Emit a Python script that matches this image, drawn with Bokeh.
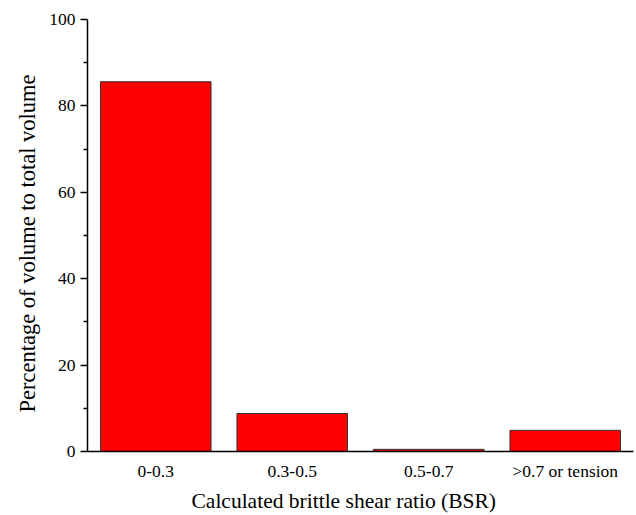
from bokeh.plotting import figure
from bokeh.models import FactorRange, Range1d, ColumnDataSource, FixedTicker, Title
from bokeh.embed import file_html
from bokeh.resources import INLINE

# BSR classes and their share of the total volume (%)
categories = ["0-0.3", "0.3-0.5", "0.5-0.7", ">0.7 or tension"]
percent = [85.6, 8.8, 0.5, 4.9]

y_major = [0, 20, 40, 60, 80, 100]
y_minor = [10, 30, 50, 70, 90]

FONT = "'Liberation Serif', 'Times New Roman', 'DejaVu Serif', serif"

src = ColumnDataSource(dict(cat=categories, val=percent))

p = figure(
    width=636, height=515,
    x_range=FactorRange(*categories, range_padding=0),
    y_range=Range1d(0, 100),
    output_backend="svg", toolbar_location=None,
    min_border_left=87, min_border_right=3,
    min_border_top=19, min_border_bottom=0,
)
p.outline_line_color = None
p.xgrid.grid_line_color = None
p.ygrid.grid_line_color = None

p.vbar(x="cat", top="val", width=0.81, bottom=0, source=src,
       fill_color="#FF0000", line_color="#333333", line_width=1)

# y axis: outward major and minor ticks
p.yaxis.ticker = FixedTicker(ticks=y_major, minor_ticks=y_minor)
p.yaxis.major_tick_out = 7
p.yaxis.major_tick_in = 0
p.yaxis.minor_tick_out = 4
p.yaxis.minor_tick_in = 0
p.yaxis.axis_line_width = 1.5
p.yaxis.major_tick_line_width = 1.5
p.yaxis.minor_tick_line_width = 1.5

# x axis: category labels without tick marks
p.xaxis.major_tick_line_color = None
p.xaxis.minor_tick_line_color = None
p.xaxis.axis_line_width = 1.5

for ax in (p.xaxis, p.yaxis):
    ax.axis_line_color = "black"
    ax.major_label_text_font = FONT
    ax.major_label_text_font_size = "17.5px"
    ax.major_label_text_color = "black"

p.yaxis.major_label_standoff = 5
p.xaxis.major_label_standoff = 3

# axis titles, placed a little off the frame centre
p.add_layout(Title(
    text="Calculated brittle shear ratio (BSR)", align="left", offset=104,
    text_font=FONT, text_font_size="21.5px", text_font_style="normal",
    text_color="black", standoff=6,
), "below")
p.add_layout(Title(
    text="Percentage of volume to total volume", align="left", offset=39,
    text_font=FONT, text_font_size="22.5px", text_font_style="normal",
    text_color="black", standoff=14,
), "left")

open("out.html", "w").write(file_html(p, INLINE))
